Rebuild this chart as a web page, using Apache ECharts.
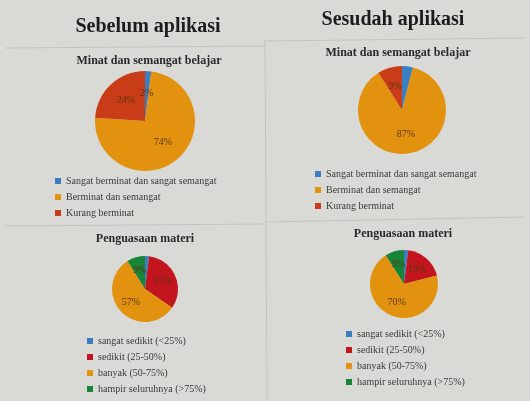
<!DOCTYPE html>
<html>
<head>
<meta charset="utf-8">
<script src="https://cdn.jsdelivr.net/npm/echarts@6/dist/echarts.min.js"></script>
<style>
  html, body { margin: 0; padding: 0; background: #d9d9d6; }
  #chart { width: 530px; height: 401px; }
</style>
</head>
<body>
<div id="chart"></div>
<script>
// data
var minatNames = ['Sangat berminat dan sangat semangat', 'Berminat dan semangat', 'Kurang berminat'];
var minatSebelum = [2, 74, 24];
var minatSesudah = [4, 87, 9];
var materiNames = ['sangat sedikit (<25%)', 'sedikit (25-50%)', 'banyak (50-75%)', 'hampir seluruhnya (>75%)'];
var materiSebelum = [2, 33, 57, 9];
var materiSesudah = [2, 19, 70, 9];

var minatColors = ['#3b7ec2', '#e2920f', '#c93c18'];
var materiColors = ['#3b7ec2', '#c3151d', '#e2920f', '#17843a'];
var serif = 'Liberation Serif';

var chart = echarts.init(document.getElementById('chart'));

function toData(names, vals) {
    return names.map(function (n, i) { return { name: n, value: vals[i] }; });
}

function pie(center, radius, names, vals, colors) {
    return {
        type: 'pie',
        center: center,
        radius: radius,
        startAngle: 90,
        color: colors,
        data: toData(names, vals),
        label: {
            show: true,
            position: 'inside',
            formatter: '{c}%',
            fontFamily: serif,
            fontSize: 10,
            color: '#5a3814'
        },
        labelLine: { show: false },
        emphasis: { disabled: true },
        itemStyle: { borderWidth: 0 }
    };
}

function legend(names, colors, left, top) {
    return {
        orient: 'vertical',
        left: left,
        top: top,
        height: 120,
        data: names.map(function (n, i) { return { name: n, itemStyle: { color: colors[i] } }; }),
        icon: 'rect',
        itemWidth: 6,
        itemHeight: 6,
        itemGap: 6,
        textStyle: { fontFamily: serif, fontSize: 10, color: '#3a3a3a' },
        selectedMode: false
    };
}

var option = {
    backgroundColor: '#d9d9d6',
    animation: false,
    title: [
        { text: 'Sebelum aplikasi', left: 143, top: 12, textAlign: 'center',
          textStyle: { fontFamily: serif, fontSize: 20, fontWeight: 'bold', color: '#1c1c1c' } },
        { text: 'Sesudah aplikasi', left: 388, top: 5, textAlign: 'center',
          textStyle: { fontFamily: serif, fontSize: 20, fontWeight: 'bold', color: '#1c1c1c' } },
        { text: 'Minat dan semangat belajar', left: 144, top: 50, textAlign: 'center',
          textStyle: { fontFamily: serif, fontSize: 12, fontWeight: 'bold', color: '#2a2a2a' } },
        { text: 'Minat dan semangat belajar', left: 393, top: 42, textAlign: 'center',
          textStyle: { fontFamily: serif, fontSize: 12, fontWeight: 'bold', color: '#2a2a2a' } },
        { text: 'Penguasaan materi', left: 140, top: 228, textAlign: 'center',
          textStyle: { fontFamily: serif, fontSize: 12, fontWeight: 'bold', color: '#2a2a2a' } },
        { text: 'Penguasaan materi', left: 398, top: 223, textAlign: 'center',
          textStyle: { fontFamily: serif, fontSize: 12, fontWeight: 'bold', color: '#2a2a2a' } }
    ],
    legend: [
        legend(minatNames, minatColors, 50, 171),
        legend(minatNames, minatColors, 310, 164),
        legend(materiNames, materiColors, 82, 331),
        legend(materiNames, materiColors, 341, 324)
    ],
    graphic: [
        { type: 'line', shape: { x1: 5, y1: 48, x2: 265, y2: 46 }, style: { stroke: '#c4c4c2', lineWidth: 1 } },
        { type: 'line', shape: { x1: 265, y1: 41, x2: 525, y2: 38 }, style: { stroke: '#c4c4c2', lineWidth: 1 } },
        { type: 'line', shape: { x1: 5, y1: 226, x2: 265, y2: 224 }, style: { stroke: '#c4c4c2', lineWidth: 1 } },
        { type: 'line', shape: { x1: 265, y1: 222, x2: 525, y2: 217 }, style: { stroke: '#c4c4c2', lineWidth: 1 } },
        { type: 'line', shape: { x1: 265, y1: 40, x2: 267, y2: 401 }, style: { stroke: '#c4c4c2', lineWidth: 1 } }
    ],
    series: [
        pie([145, 121], 50, minatNames, minatSebelum, minatColors),
        pie([402, 110], 44, minatNames, minatSesudah, minatColors),
        pie([145, 289], 33, materiNames, materiSebelum, materiColors),
        pie([404, 284], 34, materiNames, materiSesudah, materiColors)
    ]
};
chart.setOption(option);
</script>
</body>
</html>
